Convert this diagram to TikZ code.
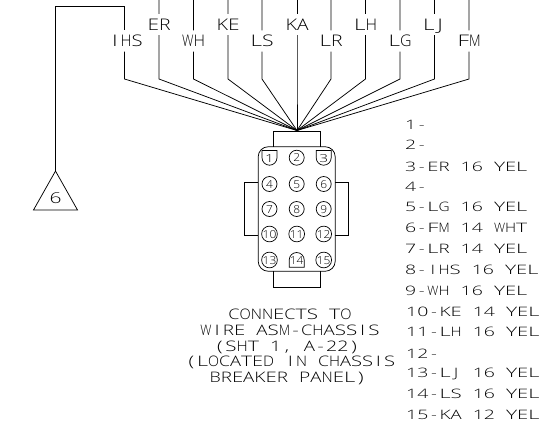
\documentclass[tikz,border=0pt]{standalone}
\usepackage{graphicx}
\usepackage{fontspec}
\setmainfont{Open Sans}[UprightFont=* Light,FakeStretch=1.4]
\makeatletter
\newlength\cellw
\newlength\glyphw
\newlength\glyphmax
\newlength\glyphmin
\newsavebox\glyphbox
\newcommand\monochar[1]{\sbox\glyphbox{#1}\setlength\glyphw{\wd\glyphbox}%
  \ifdim\glyphw>\glyphmin\makebox[\cellw][c]{\resizebox{\glyphmax}{\height}{\usebox\glyphbox}}%
  \else\makebox[\cellw][c]{\usebox\glyphbox}\fi}
\newcommand\monoraw[2]{\setlength\cellw{#1pt}\setlength\glyphmax{1.0\cellw}\setlength\glyphmin{0.62\cellw}\@tfor\ch:=#2\do{\monochar{\ch}}}
\newcommand\mono[2]{\expandafter\monoswap\expandafter{#2}{#1}}
\newcommand\monoswap[2]{\monoraw{#2}{#1}}
\makeatother
\tikzset{
  wire/.style={line width=0.75pt,black},
  wirelabel/.style={inner sep=0pt,minimum height=21pt,text height=11.5pt,text depth=0pt,font=\fontsize{16}{16}\selectfont},
  listline/.style={inner sep=0pt,anchor=west,text height=9pt,text depth=0pt,font=\fontsize{13}{13}\selectfont},
  capline/.style={inner sep=0pt,text height=10.5pt,text depth=0pt,font=\fontsize{14.5}{14.5}\selectfont},
  pinbase/.style={inner sep=0pt,text height=8pt,text depth=0pt,font=\fontsize{11}{11}\selectfont},
  pincirc/.style={pinbase,draw,circle,line width=0.7pt,minimum size=15pt},
  body/.style={draw,line width=0.75pt,rounded corners=10pt,minimum width=77pt,minimum height=124.5pt,inner sep=0pt}
}
\begin{document}
\begin{tikzpicture}[x=1pt,y=-1pt]
\useasboundingbox (0,0) rectangle (559,434);
\fill[white] (0,0) rectangle (559,434);
\coordinate (hub) at (297,130.5);
% wires with labels
\foreach \n/\x/\y in {ER/159/24.5,WH/193.5/41,KE/228/24.5,LS/262/41,KA/297/24.5,LR/331/41,LH/365.5/24.5,LG/400/41,LJ/434.5/24.5,FM/469/41}{
  \coordinate (t\n) at (\x,0);
  \coordinate (b\n) at (\x,79);
  \node[wirelabel] (l\n) at (\x,\y) {\mono{11.5}{\n}};
  \draw[wire] (t\n) -- (l\n) -- (b\n) -- (hub);
}
% IHS wire to triangle
\coordinate (corner1) at (55.5,6.5);
\coordinate (tIHS) at (124.5,6.5);
\coordinate (bIHS) at (124.5,79);
\coordinate (apex) at (55.5,171);
\coordinate (triL) at (33.5,210);
\coordinate (triR) at (77.5,210);
\node[wirelabel] (lIHS) at (126,41) {\mono{11}{IHS}};
\draw[wire] (apex) -- (corner1) -- (tIHS) -- (lIHS.north -| tIHS);
\draw[wire] (lIHS.south -| tIHS) -- (bIHS) -- (hub);
\draw[wire] (apex) -- (triR) -- (triL) -- cycle;
\node[inner sep=0pt,text height=11pt,text depth=0pt,font=\fontsize{15}{15}\selectfont] (tri6) at (55.5,197.5) {6};
% connector body
\node[body] (shell) at (296.7,209) {};
\draw[wire] (273.3,146.7) -- (273.3,131) -- (320,131) -- (320,146.7);
\draw[wire] (273.3,271.3) -- (273.3,287) -- (320,287) -- (320,271.3);
\draw[wire] (258,182.3) -- (244.7,182.3) -- (244.7,235.3) -- (258,235.3);
\draw[wire] (335.4,182.3) -- (348.3,182.3) -- (348.3,235.3) -- (335.4,235.3);
% pins
\foreach \n/\x/\y in {2/296.7/157.7,4/269.5/184,5/296.7/184,6/323.7/184,7/269.5/209,8/296.7/209,9/323.7/209,10/269.5/234,11/296.7/234,12/323.7/234,13/269.5/260,15/323.7/260}{
  \node[pincirc] (p\n) at (\x,\y) {\mono{6.8}{\n}};
}
\draw[line width=0.7pt] (262,150.5) -- (277,150.5) -- (277,157.7) arc[start angle=0,end angle=180,radius=7.5] -- cycle;
\draw[line width=0.7pt] (316.2,150.5) -- (331.2,150.5) -- (331.2,157.7) arc[start angle=0,end angle=180,radius=7.5] -- cycle;
\draw[line width=0.7pt] (289.2,267.3) -- (304.2,267.3) -- (304.2,260) arc[start angle=0,end angle=-180,radius=7.5] -- cycle;
\node[pinbase] (p1) at (269.5,158) {1};
\node[pinbase] (p3) at (323.7,158) {3};
\node[pinbase] (p14) at (296.7,260) {\mono{6.8}{14}};
% caption
\node[capline] (c1) at (290,314) {\mono{11.2}{CONNECTS~TO}};
\node[capline] (c2) at (290,330) {\mono{11.2}{WIRE~ASM-CHASSIS}};
\node[capline] (c3) at (287,346) {\mono{11.2}{(SHT~1,~A-22)}};
\node[capline] (c4) at (290.5,361) {\mono{11}{(LOCATED~IN~CHASSIS}};
\node[capline] (c5) at (288,377) {\mono{11.2}{BREAKER~PANEL)}};
% list
\foreach \n/\y/\x/\t in {a/125/405/1-,b/145/405/2-,c/167/405/3-ER~16~YEL,d/187/405/4-,e/207/405/5-LG~16~YEL,f/228/405/6-FM~14~WHT,g/249/405/7-LR~14~YEL,h/270/405/8-IHS~16~YEL,i/291/405/9-WH~16~YEL,j/312/406/10-KE~14~YEL,k/332/406/11-LH~16~YEL,l/354/406/12-,m/373/406/13-LJ~16~YEL,n/394/406/14-LS~16~YEL,o/415/406/15-KA~12~YEL}{
  \node[listline] (li\n) at (\x,\y) {\mono{11.1}{\t}};
}
\end{tikzpicture}
\end{document}
